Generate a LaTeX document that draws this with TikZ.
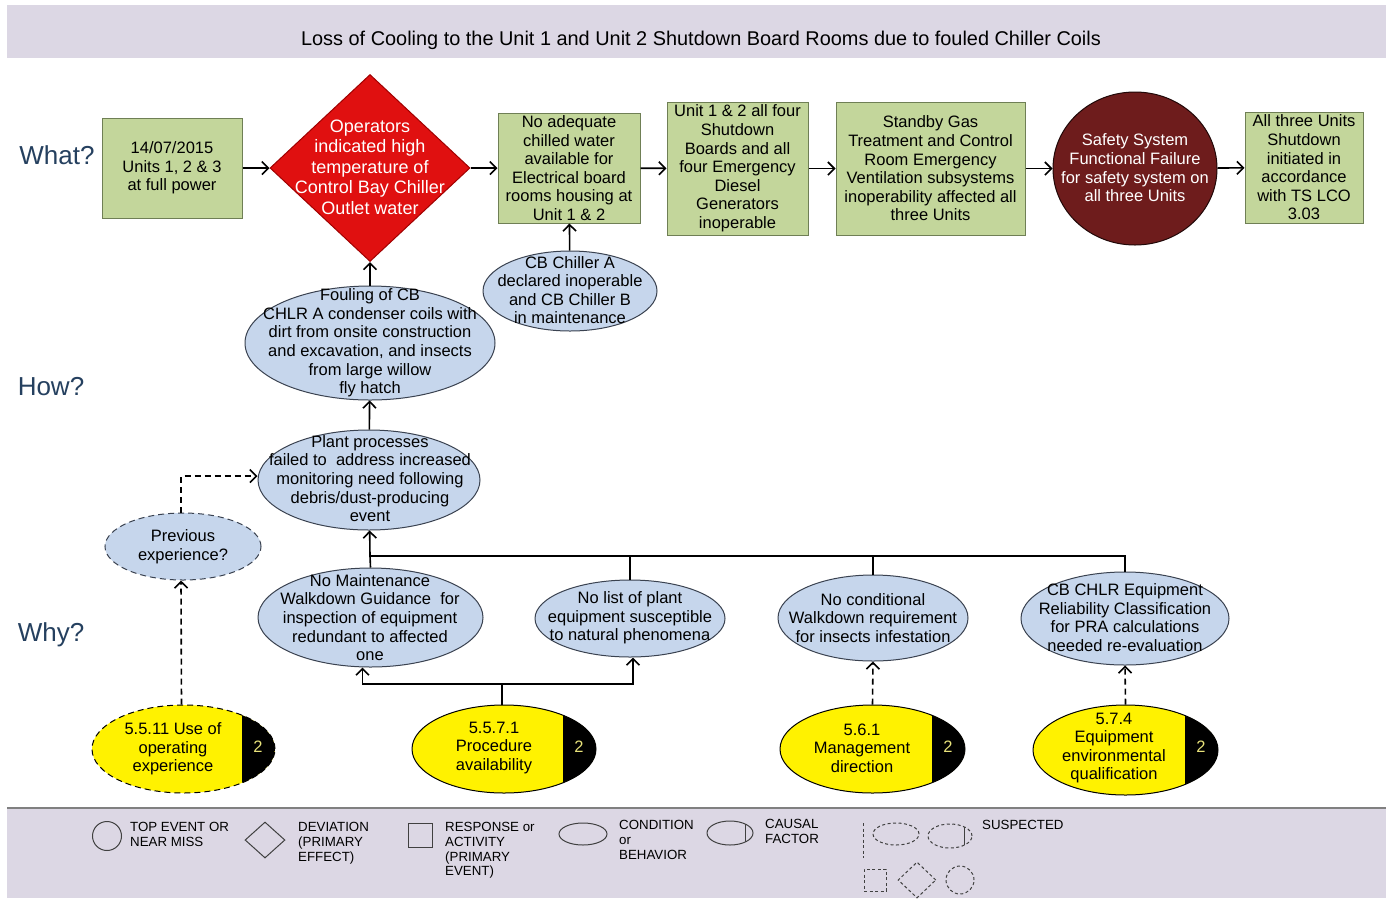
\documentclass[tikz,border=0pt]{standalone}
\usepackage{fontspec}
\setmainfont{Liberation Sans}
\usetikzlibrary{shapes.geometric,arrows.meta,calc}
\definecolor{boxg}{HTML}{C3D69B}
\definecolor{boxgd}{HTML}{6F7F55}
\definecolor{condb}{HTML}{C6D6EC}
\definecolor{condbd}{HTML}{3A4250}
\definecolor{redd}{HTML}{E01010}
\definecolor{redb}{HTML}{A00000}
\definecolor{maroonc}{HTML}{6E1C1C}
\definecolor{band}{HTML}{DCD7E4}
\definecolor{navy}{HTML}{25405F}
\definecolor{numy}{HTML}{E8E27A}
\definecolor{leg}{HTML}{404040}
\begin{document}
\begin{tikzpicture}[x=1pt,y=-1pt,
  resp/.style={draw=boxgd, fill=boxg, line width=1pt, inner sep=0pt},
  cond/.style={ellipse, draw=condbd, fill=condb, line width=1pt, inner sep=0pt},
  susp/.style={dash pattern=on 6pt off 4pt},
  cf/.style={ellipse, draw=black, fill=yellow, line width=1pt, inner sep=0pt,
    path picture={\fill[black] ([xshift=-33pt]path picture bounding box.north east) rectangle (path picture bounding box.south east);}},
  txt/.style={align=center, inner sep=0pt, font=\fontsize{16.5}{18.6}\selectfont},
  num/.style={inner sep=0pt, text=numy, font=\fontsize{16.5}{18.6}\selectfont},
  lbl/.style={text=navy, font=\fontsize{26}{28}\selectfont, inner sep=0pt},
  legtxt/.style={align=left, inner sep=0pt, anchor=north west, font=\fontsize{13.3}{14.8}\selectfont},
  legs/.style={draw=leg, line width=1pt, inner sep=0pt},
  legd/.style={draw=leg, line width=1pt, inner sep=0pt, dash pattern=on 3pt off 2.5pt},
  arr/.style={line width=1.6pt, -{Straight Barb[length=6.5pt,width=13pt,line width=1.6pt]}},
  plain/.style={line width=1.6pt}
]
\useasboundingbox (0,0) rectangle (1386,898);
\fill[white] (0,0) rectangle (1386,898);
% bands
\fill[band] (7,5) rectangle (1386,58);
\fill[band] (7,808) rectangle (1386,898);
\draw[gray, line width=1.5pt] (7,808) -- (1386,808);
\node[font=\fontsize{19.9}{21}\selectfont, inner sep=0pt] (title) at (701,40) {Loss of Cooling to the Unit 1 and Unit 2 Shutdown Board Rooms due to fouled Chiller Coils};

% row labels
\node[lbl] (what) at (57,155) {What?};
\node[lbl] (how) at (51,387) {How?};
\node[lbl] (why) at (51,635) {Why?};

% What row
\node[resp, minimum width=140pt, minimum height=100pt] (b1) at (172,168) {};
\node[txt] (b1t) at (b1) {14/07/2015\\Units 1, 2 \& 3\\at full power};
\node[diamond, draw=redb, fill=redd, line width=1pt, minimum width=200pt, minimum height=187pt, inner sep=0pt] (dv) at (370,168) {};
\node[txt, text=white, font=\fontsize{18}{20.4}\selectfont] (dvt) at (370,167) {Operators\\indicated high\\temperature of\\Control Bay Chiller\\Outlet water};
\node[resp, minimum width=142pt, minimum height=110pt] (b3) at (569,168) {};
\node[txt] (b3t) at (b3) {No adequate\\chilled water\\available for\\Electrical board\\rooms housing at\\Unit 1 \& 2};
\node[resp, minimum width=141pt, minimum height=133pt] (b4) at (737.5,168.5) {};
\node[txt] (b4t) at (b4) {Unit 1 \& 2 all four\\Shutdown\\Boards and all\\four Emergency\\Diesel\\Generators\\inoperable};
\node[resp, minimum width=189pt, minimum height=133pt] (b5) at (930.5,168.5) {};
\node[txt] (b5t) at (b5) {Standby Gas\\Treatment and Control\\Room Emergency\\Ventilation subsystems\\inoperability affected all\\three Units};
\node[ellipse, draw=black!70!maroonc, fill=maroonc, line width=1pt, minimum width=164pt, minimum height=153pt, inner sep=0pt] (te) at (1135,168.5) {};
\node[txt, text=white] (tet) at (1135,168) {Safety System\\Functional Failure\\for safety system on\\all three Units};
\node[resp, minimum width=118pt, minimum height=111pt] (b7) at (1304,167.5) {};
\node[txt] (b7t) at (b7) {All three Units\\Shutdown\\initiated in\\accordance\\with TS LCO\\3.03};

\draw[arr] (b1) -- (dv);
\draw[arr] (dv) -- (b3);
\draw[arr] (b3) -- (b4);
\draw[arr] (b4) -- (b5);
\draw[arr] (b5) -- (te);
\draw[arr] (te) -- (b7);

% How row
\node[cond, minimum width=174pt, minimum height=80pt] (cba) at (570,291) {};
\node[txt] (cbat) at (570,290) {CB Chiller A\\declared inoperable\\and CB Chiller B\\in maintenance};
\draw[arr] (cba) -- (b3);
\node[cond, minimum width=250pt, minimum height=114pt] (foul) at (370,343) {};
\node[txt] (foult) at (370,343) {Fouling of CB\\CHLR A condenser coils with\\dirt from onsite construction\\and excavation, and insects\\from large willow\\fly hatch};
\draw[arr] (foul) -- (dv.south);
\node[cond, minimum width=222pt, minimum height=100pt] (plant) at (369,480) {};
\node[txt] (plantt) at (370,478.5) {Plant processes\\failed to\ \ address increased\\monitoring need following\\debris/dust-producing\\event};
\draw[arr] (plant) -- (foul);
\node[cond, susp, minimum width=156pt, minimum height=67pt] (prev) at (183,546.5) {};
\node[txt] (prevt) at (183,546.5) {Previous\\experience?};
\draw[arr, susp] ([xshift=-2pt]prev.north) |- ([yshift=4pt]plant.west);

% Why row
\coordinate (j) at (370,556);
\node[cond, minimum width=225pt, minimum height=99pt] (w1) at (370.5,617.5) {};
\node[txt] (w1t) at (370,617.5) {No Maintenance\\Walkdown Guidance\ \ for\\inspection of equipment\\redundant to affected\\one};
\node[cond, minimum width=190pt, minimum height=77pt] (w2) at (630,618.5) {};
\node[txt] (w2t) at (630,618) {No list of plant\\equipment susceptible\\to natural phenomena};
\node[cond, minimum width=190pt, minimum height=86pt] (w3) at (873,618) {};
\node[txt] (w3t) at (873,618) {No conditional\\Walkdown requirement\\for insects infestation};
\node[cond, minimum width=208pt, minimum height=93pt] (w4) at (1125,618.5) {};
\node[txt] (w4t) at (1125,617.5) {CB CHLR Equipment\\Reliability Classification\\for PRA calculations\\needed re-evaluation};
\draw[arr] (j) -- (plant);
\draw[plain] (w1.north) -- (j);
\draw[plain] (w2.north) |- (j);
\draw[plain] (w3.north) |- (j);
\draw[plain] (w4.north) |- (j);

% causal factors
\node[cf, susp, minimum width=183pt, minimum height=88pt] (c1) at (183.5,749) {};
\node[txt] (c1t) at (173,749) {5.5.11 Use of\\operating\\experience};
\node[num] (c1n) at (258,747) {2};
\node[cf, minimum width=184pt, minimum height=88pt] (c2) at (504,749) {};
\node[txt] (c2t) at (494,748) {5.5.7.1\\Procedure\\availability};
\node[num] (c2n) at (579,747) {2};
\node[cf, minimum width=185pt, minimum height=88pt] (c3) at (872.5,749) {};
\node[txt] (c3t) at (862,748) {5.6.1\\Management\\direction};
\node[num] (c3n) at (948,747) {2};
\node[cf, minimum width=185pt, minimum height=90pt] (c4) at (1125.5,750) {};
\node[txt] (c4t) at (1114,748) {5.7.4\\Equipment\\environmental\\qualification};
\node[num] (c4n) at (1201,747) {2};

\draw[arr, susp] ([xshift=-2pt]c1.north) -- ([xshift=-2pt]prev.south);
\coordinate (k) at (502,684);
\draw[plain] ([xshift=-2pt]c2.north) -- (k);
\draw[arr] (k) -| ([xshift=-8pt]w1.south);
\draw[arr] (k) -| ([xshift=3pt]w2.south);
\draw[arr, susp] (c3.north) -- (w3.south);
\draw[arr, susp] (c4.north) -- (w4.south);

% legend
\node[legs, circle, minimum size=29pt] (l1) at (107,836) {};
\node[legtxt] (l1t) at (130,822) {TOP EVENT OR\\NEAR MISS};
\node[legs, diamond, minimum width=40pt, minimum height=36pt] (l2) at (265,840) {};
\node[legtxt] (l2t) at (298,822) {DEVIATION\\(PRIMARY\\EFFECT)};
\node[legs, minimum width=24pt, minimum height=24pt] (l3) at (420,835) {};
\node[legtxt] (l3t) at (445,822) {RESPONSE or\\ACTIVITY\\(PRIMARY\\EVENT)};
\node[legs, ellipse, minimum width=48pt, minimum height=22pt] (l4) at (583,834) {};
\node[legtxt] (l4t) at (619,820) {CONDITION\\or\\BEHAVIOR};
\node[legs, ellipse, minimum width=46pt, minimum height=24pt] (l5) at (730,833) {};
\draw[leg, line width=1pt] (745,823.9) -- (745,842.1);
\node[legtxt] (l5t) at (765,819) {CAUSAL\\FACTOR};
\draw[leg, line width=1pt, dash pattern=on 3pt off 2.5pt] (863,823) -- (863,858);
\node[legd, ellipse, minimum width=46pt, minimum height=22pt] (l6) at (896,834) {};
\node[legd, ellipse, minimum width=44pt, minimum height=24pt] (l7) at (950,836) {};
\draw[leg, line width=1pt] (964,827) -- (964,845);
\node[legtxt] (l7t) at (982,820) {SUSPECTED};
\node[legd, minimum width=22pt, minimum height=22pt] (l8) at (875,880) {};
\node[legd, diamond, minimum width=38pt, minimum height=36pt] (l9) at (917,880) {};
\node[legd, circle, minimum size=28pt] (l10) at (960,880) {};
\end{tikzpicture}
\end{document}
